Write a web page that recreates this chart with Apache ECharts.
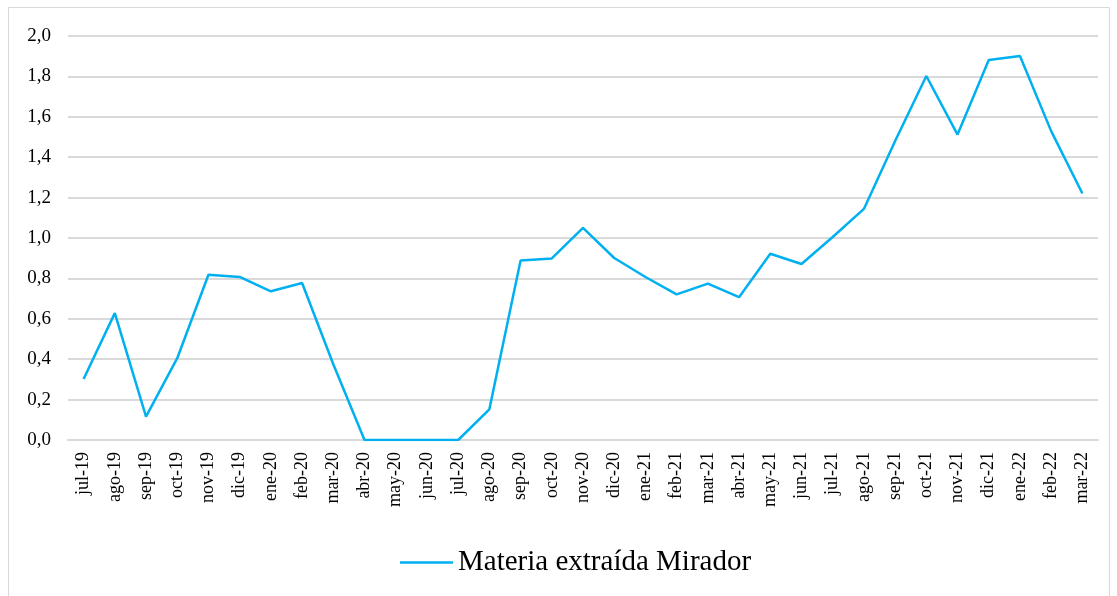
<!DOCTYPE html>
<html>
<head>
<meta charset="utf-8">
<script src="https://cdn.jsdelivr.net/npm/echarts@6/dist/echarts.min.js"></script>
<style>html,body{margin:0;padding:0;background:#fff}#c{width:1117px;height:596px}</style>
</head>
<body>
<div id="c"></div>
<script>
var categories = ['jul-19','ago-19','sep-19','oct-19','nov-19','dic-19','ene-20','feb-20','mar-20','abr-20','may-20','jun-20','jul-20','ago-20','sep-20','oct-20','nov-20','dic-20','ene-21','feb-21','mar-21','abr-21','may-21','jun-21','jul-21','ago-21','sep-21','oct-21','nov-21','dic-21','ene-22','feb-22','mar-22'];
var values = [0.302,0.628,0.116,0.405,0.818,0.807,0.736,0.777,0.375,0,0,0,0,0.152,0.889,0.899,1.050,0.901,0.807,0.721,0.774,0.707,0.922,0.871,1.005,1.144,1.48,1.802,1.512,1.881,1.901,1.529,1.220];
var seriesName = 'Materia extraída Mirador';
var font = '"Liberation Serif","Times New Roman",serif';
var chart = echarts.init(document.getElementById('c'));
chart.setOption({
  animation: false,
  graphic: [{type:'rect', shape:{x:8.5,y:7.5,width:1101,height:600}, style:{fill:'none', stroke:'#d9d9d9', lineWidth:1}}],
  grid: {left:68, right:19, top:36, bottom:156},
  legend: {top:543, left:395, itemWidth:53, itemHeight:2.5, icon:'rect', itemGap:10,
    textStyle:{fontFamily:font, fontSize:29, color:'#000'}, data:[{name:seriesName, icon:'rect'}]},
  xAxis: {type:'category', data:categories, boundaryGap:true,
    axisLine:{lineStyle:{color:'#d9d9d9', width:2}}, axisTick:{show:false},
    axisLabel:{rotate:90, interval:0, fontFamily:font, fontSize:18, color:'#000', margin:12}},
  yAxis: {type:'value', min:0, max:2, interval:0.2,
    axisLine:{show:false}, axisTick:{show:false},
    splitLine:{lineStyle:{color:'#d9d9d9', width:2}},
    axisLabel:{fontFamily:font, fontSize:19, color:'#000', margin:17,
      formatter:function(v){return v.toFixed(1).replace('.',',');}}},
  series: [{name:seriesName, type:'line', data:values, symbol:'none',
    lineStyle:{color:'#00b0f0', width:2.5}, itemStyle:{color:'#00b0f0'}}]
});
</script>
</body>
</html>
